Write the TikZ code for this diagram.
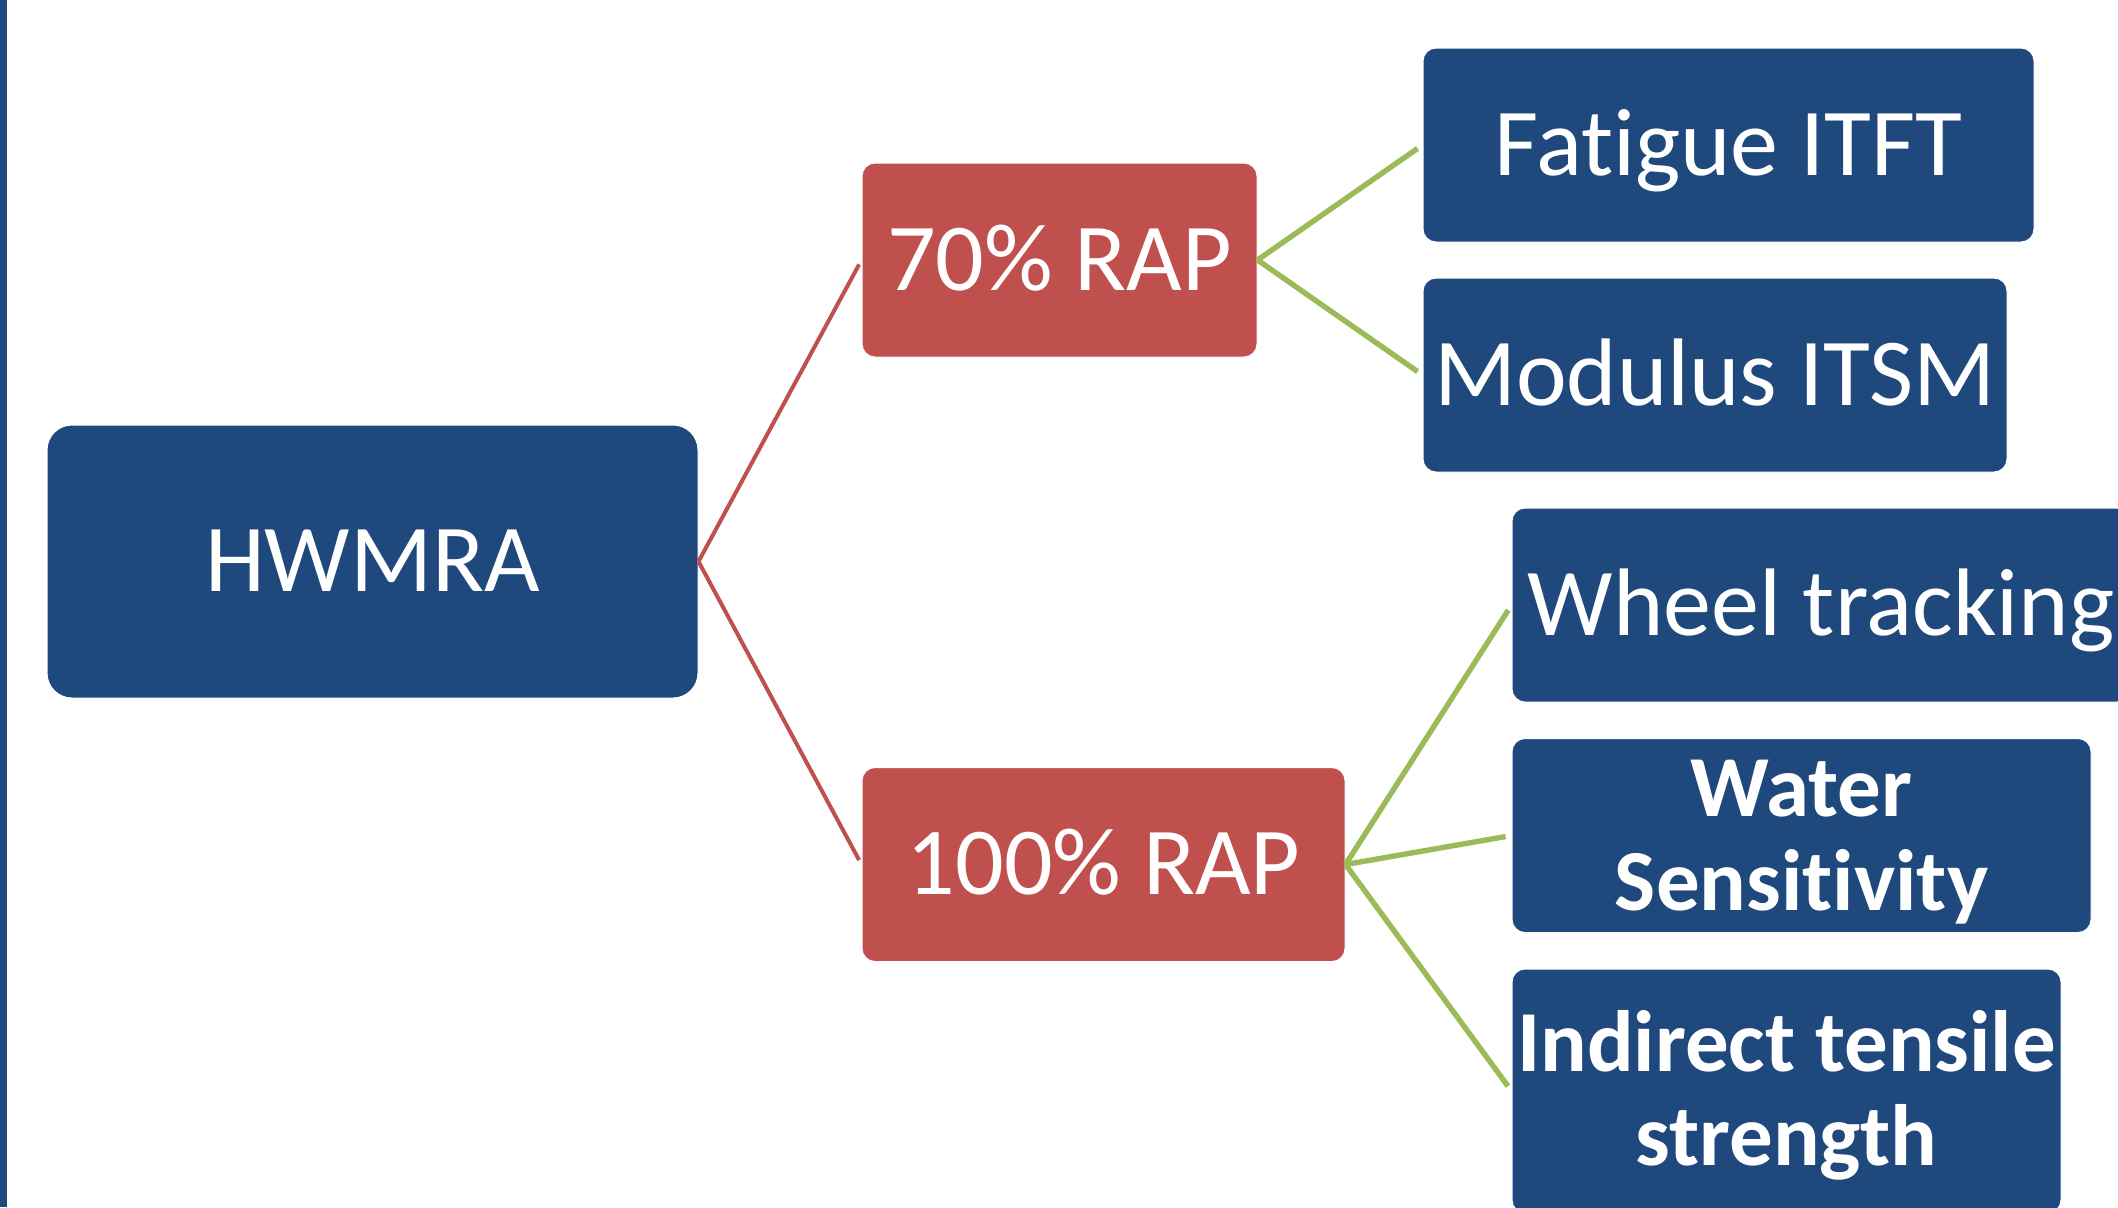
\documentclass[tikz,border=0pt]{standalone}
\usepackage{fontspec}
\setmainfont[Ligatures=NoCommon,Contextuals=NoAlternate]{Carlito}
\usepackage{tikz}
\usepackage{color}

\definecolor{boxblue}{RGB}{31,73,125}
\definecolor{rapred}{RGB}{192,80,77}
\definecolor{linkgreen}{RGB}{155,187,89}

\begin{document}
\begin{tikzpicture}[x=0.5pt,y=-0.5pt]
        \tikzstyle{test node}=[fill=boxblue,draw=white,line width=0.5pt,rounded corners=6.5pt,inner sep=0pt,
            text=white,align=center,minimum height=97pt,text height=30.3pt,text depth=0pt,
            font=\fontsize{48}{58}\selectfont]
        \tikzstyle{bold node}=[test node,text height=74.5pt,text depth=0pt,
            font=\fontsize{43.5}{47}\selectfont\bfseries]
        \tikzstyle{rap node}=[test node,fill=rapred]
        \tikzstyle{red link}=[draw=rapred,line width=2pt,shorten >=2.5pt]
        \tikzstyle{green link}=[draw=linkgreen,line width=2.7pt,shorten >=3pt]
        \clip (0,0) rectangle (2118,1207);
        \fill[boxblue] (0,0) rectangle (7,1207);
        \node[test node,rounded corners=12.5pt,minimum width=325.5pt,minimum height=136.5pt] (HWMRA) at (372.5,561.5) {HWMRA};
        \node[rap node,minimum width=197.5pt] (RAPseventy) at (1059.5,260) {70\% RAP};
        \node[rap node,minimum width=241.5pt] (RAPhundred) at (1103.5,864.5) {100\% RAP};
        \node[test node,minimum width=305.5pt] (Fatigue) at (1728.5,145) {Fatigue ITFT};
        \node[test node,minimum width=292pt] (Modulus) at (1715,375) {Modulus ITSM};
        \node[test node,minimum width=309pt] (Wheel) at (1821,605) {Wheel tracking};
        \node[bold node,minimum width=289.5pt] (Water) at (1801.5,835.5) {Water\\Sensitivity};
        \node[bold node,minimum width=274.5pt,minimum height=122pt] (Indirect) at (1786.5,1091) {Indirect tensile\\strength};
        \draw[red link] (HWMRA.east) -- (RAPseventy.west);
        \draw[red link] (HWMRA.east) -- (RAPhundred.west);
        \draw[green link] (RAPseventy.east) -- (Fatigue.west);
        \draw[green link] (RAPseventy.east) -- (Modulus.west);
        \draw[green link] (RAPhundred.east) -- (Wheel.west);
        \draw[green link] (RAPhundred.east) -- (Water.west);
        \draw[green link] (RAPhundred.east) -- (Indirect.west);
    \end{tikzpicture}
\end{document}
